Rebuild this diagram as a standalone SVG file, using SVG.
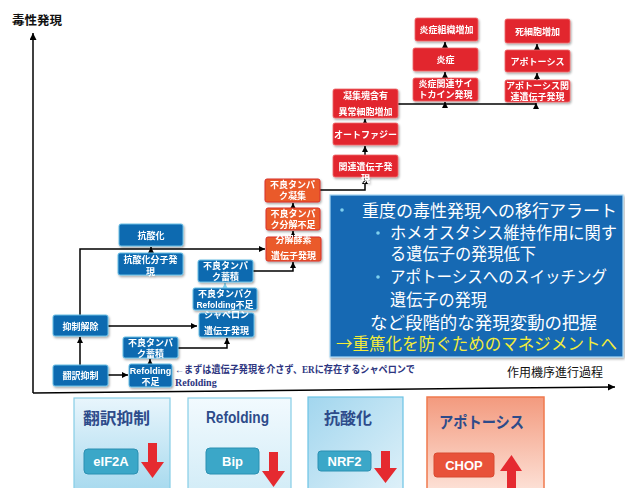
<svg xmlns="http://www.w3.org/2000/svg" width="625" height="488" viewBox="0 0 625 488">
<defs>
<style>
.jp{font-family:"Noto Sans CJK JP","Noto Sans",sans-serif;}
.nt{font-family:"Noto Sans CJK JP","Noto Sans",sans-serif;font-weight:bold;fill:#fff;text-anchor:middle;font-size:9px;}
.bn{fill:#0b6ab0;stroke:#6cc0e6;stroke-width:1;}
.on{fill:#ea5a2a;stroke:#d8302a;stroke-width:1;}
.rn{fill:#e2252f;stroke:#ef6a6a;stroke-width:0.8;}
.c{fill:none;stroke:#000;stroke-width:1.5;}
.big{font-family:"Noto Sans CJK JP","Noto Sans",sans-serif;font-size:16.5px;fill:#fff;}
.pt{font-family:"Noto Sans CJK JP","Noto Sans",sans-serif;font-weight:bold;fill:#2d4b8a;font-size:16px;}
.pill{font-family:"Liberation Sans",sans-serif;font-weight:bold;fill:#fff;text-anchor:middle;font-size:13px;}
.ra{fill:#e52a30;}
</style>
<marker id="ah" viewBox="0 0 6 6" refX="6" refY="3" markerWidth="6" markerHeight="6" markerUnits="userSpaceOnUse" orient="auto"><path d="M0,0 L6,3 L0,6 z" fill="#000"/></marker>
<marker id="ahl" viewBox="0 0 6 6" refX="6" refY="3" markerWidth="6" markerHeight="6" markerUnits="userSpaceOnUse" orient="auto"><path d="M0,0 L6,3 L0,6 z" fill="#7fd0ee"/></marker>
<marker id="ax" viewBox="0 0 8 8" refX="8" refY="4" markerWidth="7" markerHeight="7" markerUnits="userSpaceOnUse" orient="auto"><path d="M0,0 L8,4 L0,8 z" fill="#000"/></marker>
<filter id="sh" x="-10%" y="-10%" width="130%" height="140%"><feDropShadow dx="1" dy="1.5" stdDeviation="1" flood-color="#000" flood-opacity="0.35"/></filter>
<linearGradient id="g1" x1="0" y1="0" x2="0" y2="1"><stop offset="0" stop-color="#e8f5fc"/><stop offset="1" stop-color="#a6d9ee"/></linearGradient>
<linearGradient id="g2" x1="0" y1="0" x2="0" y2="1"><stop offset="0" stop-color="#f2fafe"/><stop offset="1" stop-color="#d2ecf7"/></linearGradient>
<linearGradient id="g3" x1="0" y1="0" x2="1" y2="1"><stop offset="0" stop-color="#a2d6ee"/><stop offset="1" stop-color="#dff1f9"/></linearGradient>
<linearGradient id="g4" x1="0" y1="0" x2="0" y2="1"><stop offset="0" stop-color="#f39a7e"/><stop offset="1" stop-color="#fde3d9"/></linearGradient>
</defs>
<rect width="625" height="488" fill="#fff"/>

<g id="axes">
<path d="M33,393 V33" class="c" marker-end="url(#ax)"/>
<path d="M33,393 L615,387" class="c" marker-end="url(#ax)"/>
<text x="12" y="25" class="jp" font-size="12.5" font-weight="bold" fill="#111">毒性発現</text>
<text x="507" y="377" class="jp" font-size="12" fill="#111">作用機序進行過程</text>
</g>

<g id="connectors">
<path d="M80,365 V337" class="c" marker-end="url(#ah)"/>
<path d="M108,375 H128" class="c" marker-end="url(#ah)"/>
<path d="M150,364 V359" class="c" marker-end="url(#ah)"/>
<path d="M178,348 H227 V338" class="c" marker-end="url(#ah)"/>
<path d="M108,326 H197" class="c" marker-end="url(#ah)"/>
<path d="M80,315 V249 H265" class="c" marker-end="url(#ah)"/>
<path d="M151,253 V247" class="c" marker-end="url(#ah)"/>
<path d="M225,289 V283" fill="none" stroke="#7fd0ee" stroke-width="1.5" marker-end="url(#ahl)"/>
<path d="M253,271 H293 V262" class="c" marker-end="url(#ah)"/>
<path d="M293,237 V231" class="c" marker-end="url(#ah)"/>
<path d="M293,208 V203" class="c" marker-end="url(#ah)"/>
<path d="M320,190 H365 V178" class="c" marker-end="url(#ah)"/>
<path d="M365,155 V146" class="c" marker-end="url(#ah)"/>
<path d="M365,123 V119" class="c" marker-end="url(#ah)"/>
<path d="M398,104 H536" class="c"/>
<path d="M445,106 V102" class="c" marker-end="url(#ah)"/>
<path d="M536,106 V103" class="c" marker-end="url(#ah)"/>
<path d="M445,78 V72" class="c" marker-end="url(#ah)"/>
<path d="M445,48 V42" class="c" marker-end="url(#ah)"/>
<path d="M537,80 V73" class="c" marker-end="url(#ah)"/>
<path d="M537,50 V44" class="c" marker-end="url(#ah)"/>
</g>

<g id="n-antiox" filter="url(#sh)"><rect x="119" y="224" width="64" height="22" rx="2" class="bn"/><text x="151" y="239" class="nt" font-size="10.5">抗酸化</text></g>
<g id="n-antiox-expr" filter="url(#sh)"><rect x="118" y="253" width="65" height="22" rx="2" class="bn"/><text x="150.5" y="263" class="nt" font-size="9.5">抗酸化分子発</text><text x="150.5" y="274.5" class="nt" font-size="9.5">現</text></g>
<g id="n-release" filter="url(#sh)"><rect x="53" y="315" width="55" height="21" rx="2" class="bn"/><text x="80.5" y="329.5" class="nt" font-size="10">抑制解除</text></g>
<g id="n-transl" filter="url(#sh)"><rect x="53" y="365" width="55" height="21" rx="2" class="bn"/><text x="80.5" y="379" class="nt" font-size="10">翻訳抑制</text></g>
<g id="n-accum1" filter="url(#sh)"><rect x="123" y="337" width="55" height="21" rx="2" class="bn"/><text x="150.5" y="345.5" class="nt">不良タンパ</text><text x="150.5" y="356.5" class="nt">ク蓄積</text></g>
<g id="n-refold1" filter="url(#sh)"><rect x="129" y="364" width="43" height="23" rx="2" class="bn"/><text x="150.5" y="373.5" class="nt" font-size="8.5" style="font-family:'Liberation Sans',sans-serif">Refolding</text><text x="150.5" y="384.5" class="nt">不足</text></g>
<g id="n-accum2" filter="url(#sh)"><rect x="198" y="260" width="55" height="22" rx="2" class="bn"/><text x="225.5" y="269" class="nt">不良タンパ</text><text x="225.5" y="280" class="nt">ク蓄積</text></g>
<g id="n-refold2" filter="url(#sh)"><rect x="193" y="288" width="64" height="22" rx="2" class="bn"/><text x="225" y="296.5" class="nt">不良タンパク</text><text x="225" y="307.5" class="nt"><tspan style="font-family:'Liberation Sans',sans-serif" font-size="8.5">Refolding</tspan>不足</text></g>
<g id="n-chaperone" filter="url(#sh)"><rect x="199" y="313" width="55" height="24" rx="2" class="bn"/><text x="226.5" y="318" class="nt">シャペロン</text><text x="226.5" y="334" class="nt">遺伝子発現</text></g>

<g id="n-aggr" filter="url(#sh)"><rect x="265" y="179" width="55" height="23" rx="2" class="on"/><text x="292.5" y="188" class="nt">不良タンパ</text><text x="292.5" y="199" class="nt">ク凝集</text></g>
<g id="n-degr" filter="url(#sh)"><rect x="266" y="208" width="54" height="22" rx="2" class="on"/><text x="293" y="216.5" class="nt">不良タンパ</text><text x="293" y="227.5" class="nt">ク分解不足</text></g>
<g id="n-enzyme" filter="url(#sh)"><rect x="266" y="237" width="55" height="24" rx="2" class="on"/><text x="293.5" y="243" class="nt">分解酵素</text><text x="293.5" y="258.5" class="nt">遺伝子発現</text></g>

<g id="n-autogene" filter="url(#sh)"><rect x="333" y="155" width="65" height="22" rx="2" class="rn"/><text x="365.5" y="170" class="nt" font-size="9.5">関連遺伝子発</text><text x="365.5" y="182" class="nt" font-size="9.5">現</text></g>
<g id="n-autophagy" filter="url(#sh)"><rect x="333" y="123" width="65" height="22" rx="2" class="rn"/><text x="365.5" y="137.5" class="nt">オートファジー</text></g>
<g id="n-aggcell" filter="url(#sh)"><rect x="333" y="89" width="65" height="29" rx="2" class="rn"/><text x="365.5" y="99" class="nt" font-size="9.5">凝集塊含有</text><text x="365.5" y="115" class="nt" font-size="9.5">異常細胞増加</text></g>
<g id="n-inflgene" filter="url(#sh)"><rect x="413" y="78" width="65" height="23" rx="2" class="rn"/><text x="445.5" y="87" class="nt">炎症関連サイ</text><text x="445.5" y="98" class="nt">トカイン発現</text></g>
<g id="n-infl" filter="url(#sh)"><rect x="413" y="48" width="65" height="23" rx="2" class="rn"/><text x="445.5" y="63" class="nt" font-size="9.5">炎症</text></g>
<g id="n-infltissue" filter="url(#sh)"><rect x="415" y="18" width="63" height="23" rx="2" class="rn"/><text x="446.5" y="33" class="nt" font-size="9.5">炎症組織増加</text></g>
<g id="n-apogene" filter="url(#sh)"><rect x="505" y="80" width="65" height="22" rx="2" class="rn"/><text x="537.5" y="88.5" class="nt">アポトーシス関</text><text x="537.5" y="99.5" class="nt">連遺伝子発現</text></g>
<g id="n-apo" filter="url(#sh)"><rect x="505" y="50" width="65" height="22" rx="2" class="rn"/><text x="537.5" y="64.5" class="nt" font-size="9.5">アポトーシス</text></g>
<g id="n-dead" filter="url(#sh)"><rect x="505" y="19" width="65" height="24" rx="2" class="rn"/><text x="537.5" y="34.5" class="nt" font-size="9.5">死細胞増加</text></g>

<g id="note">
<text x="175" y="373" font-size="10" font-weight="bold" fill="#2d3580" style="font-family:'Liberation Serif','Noto Sans CJK JP',serif" textLength="240" lengthAdjust="spacingAndGlyphs">←まずは遺伝子発現を介さず、ERに存在するシャペロンで</text>
<text x="175" y="386" font-size="10" font-weight="bold" fill="#2d3580" style="font-family:'Liberation Serif',serif">Refolding</text>
</g>

<g id="alert-box">
<rect x="330" y="195" width="293" height="162" fill="#1769b3" stroke="#a8d8f3" stroke-width="1.2" filter="url(#sh)"/>
<circle cx="342" cy="210" r="1.8" fill="#7fd0ee"/>
<text x="362" y="217" class="big" textLength="255" lengthAdjust="spacingAndGlyphs">重度の毒性発現への移行アラート</text>
<circle cx="378" cy="233" r="1.8" fill="#7fd0ee"/>
<text x="390" y="239" class="big" textLength="227" lengthAdjust="spacingAndGlyphs">ホメオスタシス維持作用に関す</text>
<text x="390" y="260" class="big" textLength="146" lengthAdjust="spacingAndGlyphs">る遺伝子の発現低下</text>
<circle cx="378" cy="277" r="1.8" fill="#7fd0ee"/>
<text x="390" y="283" class="big" textLength="217" lengthAdjust="spacingAndGlyphs">アポトーシスへのスイッチング</text>
<text x="390" y="306" class="big" textLength="97" lengthAdjust="spacingAndGlyphs">遺伝子の発現</text>
<text x="370" y="329" class="big" textLength="227" lengthAdjust="spacingAndGlyphs">など段階的な発現変動の把握</text>
<text x="336" y="350" class="big" style="fill:#f3ec3b" textLength="281" lengthAdjust="spacingAndGlyphs">→重篤化を防ぐためのマネジメントへ</text>
</g>

<g id="panel-transl">
<rect x="74" y="398" width="96" height="95" fill="url(#g1)" stroke="#86cde6" stroke-width="1.2"/>
<text x="83" y="424" class="pt" textLength="67" lengthAdjust="spacingAndGlyphs">翻訳抑制</text>
<rect x="84" y="449" width="54" height="25" rx="4" fill="#3ba7c8" stroke="#2b90b2"/>
<text x="111" y="466" class="pill">eIF2A</text>
<path d="M148,443 H157 V462 H164 L152.5,478 L141,462 H148 Z" class="ra"/>
</g>
<g id="panel-refold">
<rect x="188" y="398" width="103" height="95" fill="url(#g2)" stroke="#86cde6" stroke-width="1.2"/>
<text x="206" y="423" class="pt" style="font-family:'Liberation Sans',sans-serif" font-size="15" textLength="63" lengthAdjust="spacingAndGlyphs">Refolding</text>
<rect x="206" y="448" width="53" height="26" rx="4" fill="#3ba7c8" stroke="#2b90b2"/>
<text x="232.5" y="466" class="pill">Bip</text>
<path d="M269,452 H278 V471 H285 L273.5,487 L262,471 H269 Z" class="ra"/>
</g>
<g id="panel-antiox">
<rect x="308" y="397" width="95" height="96" fill="url(#g3)" stroke="#6cc3e4" stroke-width="1.2"/>
<text x="324" y="424" class="pt" textLength="48" lengthAdjust="spacingAndGlyphs">抗酸化</text>
<rect x="318" y="451" width="53" height="20" rx="3" fill="#3ba7c8" stroke="#2b90b2"/>
<text x="344.5" y="466" class="pill">NRF2</text>
<path d="M381,451 H390 V468 H397 L385.5,483 L374,468 H381 Z" class="ra"/>
</g>
<g id="panel-apo">
<rect x="427" y="397" width="117" height="96" fill="url(#g4)" stroke="#f07a4e" stroke-width="1.5"/>
<text x="439" y="428" class="pt" textLength="85" lengthAdjust="spacingAndGlyphs">アポトーシス</text>
<rect x="434" y="453" width="60" height="24" rx="3" fill="#e8523a" stroke="#d84a30"/>
<text x="464" y="470" class="pill">CHOP</text>
<path d="M507,491 H516 V471 H522 L511.5,455 L500,471 H507 Z" class="ra"/>
</g>
</svg>
